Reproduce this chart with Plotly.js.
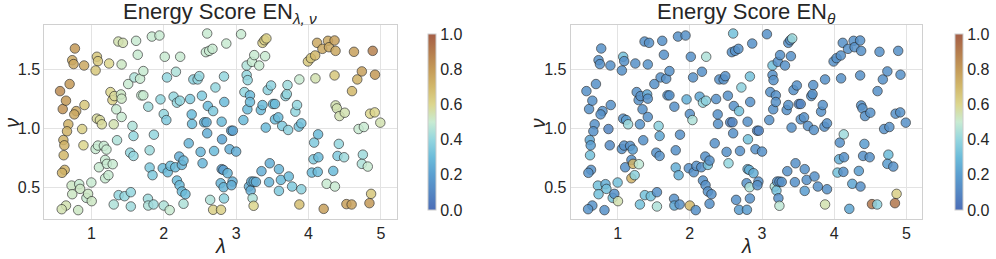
<!DOCTYPE html>
<html>
<head>
<meta charset="utf-8">
<script src="https://cdn.plot.ly/plotly-3.0.1.min.js"></script>
<style>html,body{margin:0;padding:0;background:#fff;}#chart{width:996px;height:259px;}</style>
</head>
<body>
<div id="chart"></div>
<script>
// sample positions (shared by both panels)
const lam = [0.568,0.605,0.65,0.70,0.773,0.736,0.755,0.791,0.764,0.682,0.664,0.614,0.627,0.618,0.632,0.595,0.65,0.591,0.727,0.736,
0.832,0.845,0.818,0.873,0.891,0.90,0.905,0.932,0.955,1.0,1.005,1.077,1.091,1.059,1.077,1.118,1.145,1.059,1.091,1.105,
1.173,1.209,1.191,1.214,1.295,1.191,1.236,1.309,1.377,1.459,1.245,1.264,1.291,1.318,1.309,1.345,1.355,1.373,1.436,1.418,
1.409,1.418,1.418,1.509,1.545,1.545,1.568,1.536,1.582,1.582,1.595,1.618,1.641,1.673,1.691,1.718,1.718,1.786,1.805,1.805,
1.845,1.864,1.782,1.786,1.859,1.836,1.941,1.955,2.014,2.0,2.036,2.045,1.986,2.055,2.091,2.159,2.0,2.082,2.168,2.136,
2.182,2.223,2.227,2.182,2.218,2.214,2.25,2.273,2.25,2.30,2.273,2.364,2.345,2.391,2.386,2.409,2.468,2.491,2.509,2.536,
2.527,2.559,2.591,2.609,2.60,2.682,2.60,2.582,2.627,2.673,2.641,2.682,2.791,2.714,2.695,2.786,2.827,2.832,2.80,2.823,
2.882,2.805,2.80,2.836,2.832,2.864,2.909,2.932,2.955,2.95,2.936,3.0,3.068,3.10,3.114,3.145,3.145,3.159,3.155,3.191,
3.191,3.177,3.209,3.20,3.241,3.273,3.227,3.241,3.218,3.25,3.318,3.341,3.364,3.35,3.364,3.391,3.418,3.40,3.409,3.436,
3.482,3.455,3.464,3.509,3.536,3.536,3.582,3.591,3.618,3.591,3.636,3.682,3.70,3.709,3.718,3.727,3.773,3.818,3.841,3.864,
3.90,3.873,3.90,3.873,3.991,4.032,4.091,4.118,4.191,4.268,4.282,4.359,4.373,4.359,4.095,4.045,4.068,4.077,4.132,4.127,
4.136,4.25,4.209,4.341,4.364,4.40,4.418,4.373,4.391,4.427,4.50,4.491,4.523,4.595,4.60,4.627,4.673,4.691,4.736,4.75,
4.736,4.764,4.818,4.85,4.914,4.864,4.841,4.886,4.918,4.991];
const nu = [1.315,1.163,1.234,1.375,1.676,1.577,1.544,1.146,1.118,1.034,0.975,0.901,0.856,0.772,0.648,0.623,0.346,0.315,0.515,0.442,
0.527,0.487,0.307,0.994,0.856,1.532,1.197,0.411,0.445,0.541,0.383,1.606,1.569,1.49,1.082,1.07,1.034,0.825,0.854,0.67,
0.851,0.82,0.732,0.699,0.696,0.577,0.603,0.355,0.434,0.425,1.549,1.307,1.239,1.273,1.034,1.161,0.899,1.735,1.724,1.541,
1.287,1.251,1.096,1.375,0.459,0.338,1.02,0.794,0.766,0.935,1.431,1.741,1.623,1.42,1.279,1.279,1.485,1.183,0.814,0.668,
0.603,0.946,0.403,0.346,0.355,1.777,1.786,1.245,1.606,1.121,1.07,1.431,0.662,0.628,0.682,0.67,0.346,0.307,1.479,1.268,
1.217,1.234,1.606,0.558,0.518,0.761,0.69,0.727,0.465,0.442,0.361,1.248,0.873,1.037,1.118,1.414,1.414,1.442,0.80,0.704,
1.276,1.051,1.051,1.189,0.958,1.146,1.803,1.645,1.656,1.673,0.394,0.31,0.31,1.346,0.808,0.535,0.501,0.406,0.654,0.648,
0.62,0.907,1.056,1.223,1.439,1.718,0.823,0.98,0.98,0.549,0.518,0.803,1.797,1.07,1.307,1.532,1.451,1.408,1.161,1.279,
1.223,0.507,0.549,0.473,0.549,0.546,0.408,0.344,1.563,1.62,1.532,1.155,1.197,0.637,1.724,1.746,1.761,1.611,1.006,1.324,
1.363,0.544,0.704,1.206,1.206,1.076,1.093,0.654,0.563,0.47,1.02,1.273,1.29,1.366,0.986,0.592,0.507,1.141,1.197,1.014,
1.042,1.414,0.484,0.355,1.566,1.594,1.617,1.724,1.673,1.741,1.687,1.744,1.656,1.448,1.423,0.625,0.738,0.879,0.949,0.631,
0.755,0.53,0.318,0.639,0.507,0.766,0.868,1.194,1.169,1.104,1.132,0.755,0.358,0.355,1.315,1.648,1.414,0.994,1.482,0.777,
0.699,1.011,0.676,1.124,1.135,0.445,0.366,1.656,1.454,1.048];
// Energy Score EN_{lambda,nu}
const scoreLamNu = [0.85,0.82,0.8,0.8,0.8,0.75,0.75,0.75,0.75,0.72,0.72,0.72,0.72,0.7,0.72,0.72,0.55,0.55,0.52,0.52,
0.5,0.52,0.52,0.62,0.6,0.75,0.65,0.5,0.52,0.5,0.52,0.65,0.65,0.65,0.58,0.58,0.58,0.5,0.5,0.5,
0.5,0.5,0.5,0.5,0.5,0.5,0.5,0.45,0.4,0.4,0.6,0.6,0.62,0.58,0.55,0.5,0.45,0.55,0.55,0.52,
0.52,0.52,0.5,0.5,0.4,0.42,0.45,0.4,0.4,0.4,0.45,0.5,0.5,0.5,0.5,0.5,0.5,0.42,0.42,0.35,
0.35,0.4,0.42,0.45,0.42,0.5,0.5,0.4,0.5,0.4,0.35,0.4,0.3,0.3,0.3,0.3,0.45,0.5,0.45,0.4,
0.4,0.4,0.5,0.3,0.3,0.25,0.28,0.28,0.3,0.3,0.45,0.35,0.28,0.3,0.3,0.38,0.4,0.4,0.28,0.28,
0.35,0.25,0.25,0.3,0.25,0.35,0.5,0.5,0.5,0.5,0.45,0.62,0.62,0.4,0.3,0.28,0.28,0.38,0.2,0.2,
0.28,0.22,0.3,0.3,0.4,0.5,0.25,0.2,0.22,0.25,0.25,0.25,0.5,0.3,0.4,0.45,0.4,0.4,0.3,0.3,
0.3,0.25,0.25,0.25,0.25,0.25,0.45,0.6,0.5,0.5,0.5,0.3,0.3,0.25,0.62,0.62,0.62,0.5,0.3,0.38,
0.38,0.28,0.25,0.3,0.3,0.3,0.3,0.28,0.3,0.35,0.35,0.38,0.4,0.42,0.38,0.3,0.35,0.4,0.4,0.32,
0.32,0.5,0.38,0.68,0.65,0.65,0.7,0.75,0.75,0.75,0.75,0.78,0.75,0.65,0.55,0.3,0.35,0.35,0.3,0.3,
0.3,0.5,0.78,0.3,0.5,0.35,0.4,0.55,0.55,0.55,0.55,0.42,0.78,0.78,0.7,0.78,0.72,0.5,0.78,0.42,
0.45,0.5,0.5,0.6,0.6,0.65,0.8,0.88,0.8,0.55];
// Energy Score EN_theta
const scoreTheta = [0.14,0.14,0.14,0.14,0.14,0.14,0.14,0.14,0.14,0.14,0.14,0.22,0.19,0.32,0.14,0.16,0.16,0.16,0.32,0.32,
0.25,0.32,0.14,0.1,0.12,0.14,0.14,0.32,0.14,0.32,0.55,0.32,0.14,0.14,0.14,0.19,0.42,0.14,0.14,0.14,
0.14,0.19,0.14,0.72,0.48,0.72,0.38,0.32,0.32,0.32,0.14,0.14,0.14,0.14,0.16,0.14,0.14,0.14,0.14,0.16,
0.22,0.14,0.14,0.14,0.14,0.45,0.38,0.14,0.16,0.22,0.14,0.14,0.14,0.14,0.14,0.14,0.14,0.14,0.14,0.25,
0.25,0.14,0.14,0.22,0.14,0.14,0.14,0.25,0.14,0.14,0.45,0.14,0.14,0.14,0.14,0.14,0.7,0.14,0.14,0.22,
0.4,0.38,0.45,0.14,0.14,0.14,0.32,0.14,0.14,0.14,0.14,0.14,0.14,0.14,0.14,0.14,0.14,0.14,0.14,0.4,
0.14,0.1,0.1,0.14,0.14,0.32,0.32,0.14,0.14,0.14,0.14,0.19,0.19,0.38,0.14,0.14,0.45,0.14,0.25,0.25,
0.25,0.32,0.14,0.14,0.32,0.14,0.14,0.1,0.1,0.14,0.14,0.14,0.14,0.14,0.14,0.32,0.14,0.14,0.14,0.14,
0.14,0.45,0.14,0.32,0.14,0.14,0.14,0.48,0.14,0.14,0.14,0.14,0.14,0.14,0.14,0.14,0.42,0.14,0.14,0.14,
0.14,0.14,0.14,0.1,0.1,0.14,0.14,0.14,0.14,0.19,0.14,0.14,0.14,0.14,0.14,0.14,0.14,0.14,0.14,0.14,
0.14,0.14,0.14,0.55,0.14,0.14,0.14,0.14,0.14,0.14,0.14,0.14,0.14,0.14,0.14,0.32,0.25,0.14,0.42,0.14,
0.14,0.22,0.22,0.19,0.14,0.14,0.19,0.14,0.14,0.14,0.14,0.14,0.92,0.38,0.14,0.14,0.14,0.14,0.14,0.3,
0.19,0.14,0.14,0.14,0.14,0.62,0.92,0.14,0.14,0.14];
const cbTicks = [0, 0.2, 0.4, 0.6, 0.8, 1.0];
const xTicks = [1, 2, 3, 4, 5];
const yTicks = [0.5, 1.0, 1.5];
const titles = ['Energy Score EN<sub><i>λ, ν</i></sub>', 'Energy Score EN<sub><i>θ</i></sub>'];

const W = 996, H = 259;
const px = v => v / W, py = v => 1 - v / H;
const cscale = [[0,'#4c6db7'],[0.1,'#5587c3'],[0.2,'#5b9fd0'],[0.3,'#6cbcda'],[0.4,'#94d6df'],[0.5,'#c8ebd2'],
  [0.6,'#dcd68e'],[0.7,'#d2b86b'],[0.8,'#c49a58'],[0.9,'#b47c4e'],[1,'#a55e46']];
const font = 'Liberation Sans, Arial, sans-serif';
const txt = '#262626';

function trace(vals, xa, ya, cbx) {
  return {
    type: 'scatter', mode: 'markers', x: lam, y: nu, xaxis: xa, yaxis: ya,
    marker: {
      color: vals, cmin: 0, cmax: 1, colorscale: cscale, size: 9.5, opacity: 0.85,
      line: {width: 0.8, color: 'rgba(30,30,30,0.9)'},
      colorbar: {x: cbx, xanchor: 'left', xref: 'paper', y: py(121.9), yanchor: 'middle',
        len: 195.7 / H, lenmode: 'fraction', thickness: 8, outlinecolor: '#cccccc', outlinewidth: 1,
        tickvals: cbTicks, tickformat: '.1f', ticks: '', tickfont: {family: font, size: 16, color: txt}}
    },
    showlegend: false, hoverinfo: 'x+y'
  };
}
function xaxis(domain) {
  return {domain, range: [0.35, 5.215], tickvals: xTicks, showgrid: true, gridcolor: '#e3e3e3', gridwidth: 1,
    zeroline: false, showline: true, mirror: true, linecolor: '#d0d0d0', linewidth: 1, ticks: '',
    tickfont: {family: font, size: 16, color: txt}};
}
function yaxis(domain, anchor) {
  return {domain, anchor, range: [0.232, 1.875], tickvals: yTicks, tickformat: '.1f', showgrid: true,
    gridcolor: '#e3e3e3', gridwidth: 1, zeroline: false, showline: true, mirror: true, linecolor: '#d0d0d0',
    linewidth: 1, ticks: '', tickfont: {family: font, size: 16, color: txt}};
}
const yd = [py(219), py(25)];
const ann = (text, x, y, size, angle) => ({text, x: px(x), y: py(y), xref: 'paper', yref: 'paper', xanchor: 'center',
  yanchor: 'middle', textangle: angle || 0, showarrow: false, font: {family: font, size, color: txt}});
const layout = {
  width: W, height: H, margin: {l: 0, r: 0, t: 0, b: 0}, paper_bgcolor: '#fff', plot_bgcolor: '#fff',
  xaxis: xaxis([px(45), px(403)]), yaxis: yaxis(yd, 'x'),
  xaxis2: xaxis([px(580), px(937)]), yaxis2: yaxis(yd, 'x2'),
  annotations: [
    ann(titles[0], 224, 13, 22), ann(titles[1], 758.5, 13, 22),
    ann('<i>λ</i>', 224, 246, 20), ann('<i>λ</i>', 758.5, 246, 20),
    ann('<i>ν</i>', 12, 123, 20, -90), ann('<i>ν</i>', 547, 123, 20, -90)
  ]
};
Plotly.newPlot('chart', [trace(scoreLamNu, 'x', 'y', px(425)), trace(scoreTheta, 'x2', 'y2', px(960))], layout, {staticPlot: true});
</script>
</body>
</html>
